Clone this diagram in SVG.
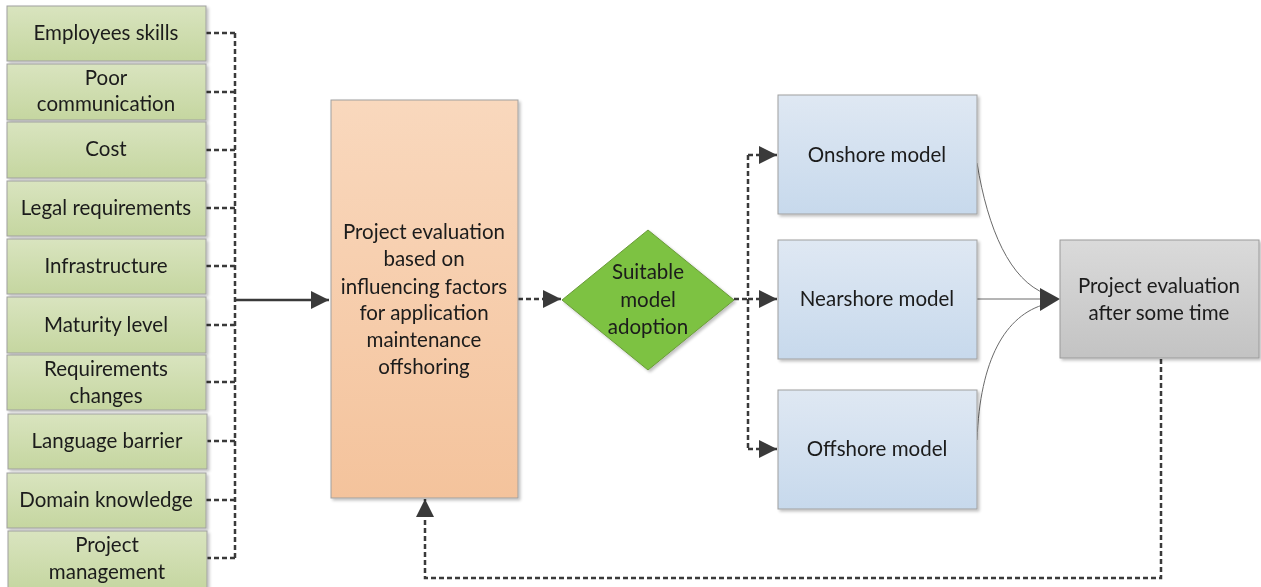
<svg xmlns="http://www.w3.org/2000/svg" width="1261" height="587" viewBox="0 0 1261 587">
  <defs>
    <linearGradient id="gGreen" x1="0" y1="0" x2="0" y2="1">
      <stop offset="0" stop-color="#d9e4bf"/>
      <stop offset="1" stop-color="#c5d6a0"/>
    </linearGradient>
    <linearGradient id="gOrange" x1="0" y1="0" x2="0" y2="1">
      <stop offset="0" stop-color="#f9d8bd"/>
      <stop offset="1" stop-color="#f4c39c"/>
    </linearGradient>
    <linearGradient id="gBlue" x1="0" y1="0" x2="0" y2="1">
      <stop offset="0" stop-color="#dfe8f3"/>
      <stop offset="1" stop-color="#c7d9ec"/>
    </linearGradient>
    <linearGradient id="gGrey" x1="0" y1="0" x2="0" y2="1">
      <stop offset="0" stop-color="#dadada"/>
      <stop offset="1" stop-color="#c3c3c3"/>
    </linearGradient>
    <filter id="shadow" x="-10%" y="-10%" width="130%" height="130%">
      <feGaussianBlur in="SourceAlpha" stdDeviation="1.5"/>
      <feOffset dx="2" dy="2" result="b"/>
      <feComponentTransfer><feFuncA type="linear" slope="0.25"/></feComponentTransfer>
      <feMerge><feMergeNode/><feMergeNode in="SourceGraphic"/></feMerge>
    </filter>
    <marker id="arrow" viewBox="0 0 10 10" refX="10" refY="5" markerWidth="18" markerHeight="18" markerUnits="userSpaceOnUse" orient="auto">
      <path d="M0,0 L10,5 L0,10 z" fill="#3a3a3a"/>
    </marker>
  </defs>
  <style>
    text { font-family: Lato, "Liberation Sans", sans-serif; font-size: 20.5px; fill: #1a1a1a; text-anchor: middle; }
    .factor { fill: url(#gGreen); stroke: #a0a0a0; stroke-width: 1; }
    .dash { fill: none; stroke: #3a3a3a; stroke-width: 2.5; stroke-dasharray: 5 3; }
    .thin { fill: none; stroke: #6a6a6a; stroke-width: 1; }
  </style>
  <rect width="1261" height="587" fill="#ffffff"/>

  <!-- connectors -->
  <g id="connectors">
    <!-- factors to the trunk -->
    <path class="dash" d="M206,33 H235 M206,92 H235 M206,150 H235 M206,208 H235 M206,266 H235 M206,325 H235 M206,382 H235 M206,441 H235 M206,500 H235 M206,558 H235 M235,33 V558"/>
    <!-- trunk to evaluation -->
    <path d="M235,300 H329" fill="none" stroke="#3a3a3a" stroke-width="2.5" marker-end="url(#arrow)"/>
    <!-- evaluation to decision -->
    <path class="dash" d="M518,299 H561" marker-end="url(#arrow)"/>
    <!-- decision to models -->
    <path class="dash" d="M734,299 H748 M748,155 V449"/>
    <path class="dash" d="M748,155 H777" marker-end="url(#arrow)"/>
    <path class="dash" d="M748,299 H777" marker-end="url(#arrow)"/>
    <path class="dash" d="M748,449 H777" marker-end="url(#arrow)"/>
    <!-- models to later evaluation -->
    <path class="thin" d="M977,163 C988,230 1010,280 1046,294"/>
    <path class="thin" d="M977,299 H1046"/>
    <path class="thin" d="M977,440 C980,360 1005,315 1046,304"/>
    <path d="M1040,288 L1060,299 L1040,311 z" fill="#3a3a3a"/>
    <!-- feedback loop -->
    <path class="dash" d="M1161,359 V578 H425 V499" marker-end="url(#arrow)"/>
  </g>

  <!-- influencing factors -->
  <g id="factor-employees" filter="url(#shadow)">
    <rect class="factor" x="7" y="6" width="199" height="55"/>
    <text x="106" y="40">Employees skills</text>
  </g>
  <g id="factor-communication" filter="url(#shadow)">
    <rect class="factor" x="7" y="64" width="199" height="56"/>
    <text x="106" y="85">Poor</text>
    <text x="106" y="111">communication</text>
  </g>
  <g id="factor-cost" filter="url(#shadow)">
    <rect class="factor" x="7" y="122" width="199" height="56"/>
    <text x="106" y="156">Cost</text>
  </g>
  <g id="factor-legal" filter="url(#shadow)">
    <rect class="factor" x="7" y="181" width="199" height="55"/>
    <text x="106" y="215">Legal requirements</text>
  </g>
  <g id="factor-infrastructure" filter="url(#shadow)">
    <rect class="factor" x="7" y="239" width="199" height="55"/>
    <text x="106" y="273">Infrastructure</text>
  </g>
  <g id="factor-maturity" filter="url(#shadow)">
    <rect class="factor" x="7" y="297" width="199" height="56"/>
    <text x="106" y="332">Maturity level</text>
  </g>
  <g id="factor-requirements" filter="url(#shadow)">
    <rect class="factor" x="7" y="355" width="199" height="55"/>
    <text x="106" y="376">Requirements</text>
    <text x="106" y="403">changes</text>
  </g>
  <g id="factor-language" filter="url(#shadow)">
    <rect class="factor" x="8" y="414" width="199" height="55"/>
    <text x="107" y="448">Language barrier</text>
  </g>
  <g id="factor-domain" filter="url(#shadow)">
    <rect class="factor" x="7" y="473" width="199" height="55"/>
    <text x="106" y="507">Domain knowledge</text>
  </g>
  <g id="factor-management" filter="url(#shadow)">
    <rect class="factor" x="8" y="531" width="199" height="60"/>
    <text x="107" y="552">Project</text>
    <text x="107" y="579">management</text>
  </g>

  <!-- evaluation based on factors -->
  <g id="evaluation" filter="url(#shadow)">
    <rect x="331" y="100" width="187" height="398" fill="url(#gOrange)" stroke="#a0a0a0"/>
    <text x="424" y="239">Project evaluation</text>
    <text x="424" y="266">based on</text>
    <text x="424" y="294">influencing factors</text>
    <text x="424" y="320">for application</text>
    <text x="424" y="347">maintenance</text>
    <text x="424" y="374">offshoring</text>
  </g>

  <!-- decision -->
  <g id="decision" filter="url(#shadow)">
    <path d="M648,230 L734,300 L648,370 L562,300 z" fill="#7dc243" stroke="#6a9a3a"/>
    <text x="648" y="279">Suitable</text>
    <text x="648" y="307">model</text>
    <text x="648" y="334">adoption</text>
  </g>

  <!-- sourcing models -->
  <g id="onshore" filter="url(#shadow)">
    <rect x="778" y="95" width="199" height="119" fill="url(#gBlue)" stroke="#a0a0a0"/>
    <text x="877" y="162">Onshore model</text>
  </g>
  <g id="nearshore" filter="url(#shadow)">
    <rect x="778" y="240" width="199" height="119" fill="url(#gBlue)" stroke="#a0a0a0"/>
    <text x="877" y="306">Nearshore model</text>
  </g>
  <g id="offshore" filter="url(#shadow)">
    <rect x="778" y="390" width="199" height="119" fill="url(#gBlue)" stroke="#a0a0a0"/>
    <text x="877" y="456">Offshore model</text>
  </g>

  <!-- later evaluation -->
  <g id="later-evaluation" filter="url(#shadow)">
    <rect x="1060" y="240" width="199" height="118" fill="url(#gGrey)" stroke="#9a9a9a"/>
    <text x="1159" y="293">Project evaluation</text>
    <text x="1159" y="320">after some time</text>
  </g>
</svg>
